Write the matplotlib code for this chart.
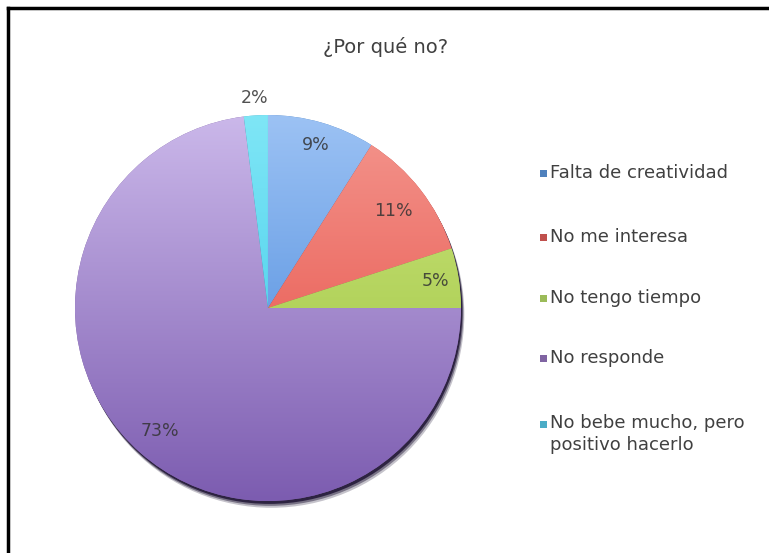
import numpy as np
import matplotlib
matplotlib.use("Agg")
import matplotlib.pyplot as plt
from matplotlib.colors import LinearSegmentedColormap, to_rgb
from matplotlib.patches import Circle, Rectangle
from matplotlib.lines import Line2D

categories = ["Falta de creatividad", "No me interesa", "No tengo tiempo",
              "No responde", "No bebe mucho, pero\npositivo hacerlo"]
values = [9, 11, 5, 73, 2]
title = "¿Por qué no?"

# light (top) and dark (bottom) tones for each slice's vertical gradient
tops = ["#9cc2f4", "#f4968e", "#cde47e", "#cbb8ea", "#7fe6f6"]
bottoms = ["#3b7fd8", "#e4433a", "#98c23a", "#7c5cb0", "#34c6e6"]
legend_colors = ["#4f81bd", "#c0504d", "#9bbb59", "#8064a2", "#4bacc6"]
label_radius = [0.88, 0.82, 0.88, 0.85, 1.09]

text_color = "#404040"
plt.rcParams["font.family"] = ["DejaVu Sans"]

fig = plt.figure(figsize=(7.69, 5.53), dpi=100)
fig.patch.set_facecolor("white")

# outer frame: only top and left edges are visible
fig.add_artist(Line2D([8 / 769, 8 / 769], [0, 1 - 8 / 553], transform=fig.transFigure,
                      color="black", lw=2.5))
fig.add_artist(Line2D([8 / 769, 1], [1 - 8 / 553, 1 - 8 / 553], transform=fig.transFigure,
                      color="black", lw=2.5))

ax = fig.add_axes([0.0473, 0.0242, 0.6023, 0.8376])
ax.set_xlim(-1.2, 1.2)
ax.set_ylim(-1.2, 1.2)
ax.set_aspect("equal")
ax.axis("off")

# soft shadow toward lower right
for k, a in zip([0.035, 0.025, 0.015], [0.25, 0.45, 0.8]):
    ax.add_patch(Circle((k * 0.5, -k), 1.0, color="#1a1030", alpha=a, zorder=1, lw=0))

wedges, _ = ax.pie(values, startangle=90, counterclock=False, radius=1.0,
                   colors=legend_colors, wedgeprops=dict(lw=0, zorder=2))

yy = np.linspace(1, 0, 256).reshape(-1, 1)
for w, t, b in zip(wedges, tops, bottoms):
    cmap = LinearSegmentedColormap.from_list("g", [to_rgb(b), to_rgb(t)])
    im = ax.imshow(yy, cmap=cmap, extent=(-1, 1, -1, 1), aspect="auto",
                   vmin=0, vmax=1, zorder=3, interpolation="bilinear")
    im.set_clip_path(w)

ax.set_xlim(-1.2, 1.2)
ax.set_ylim(-1.2, 1.2)

total = sum(values)
start = 90.0
for v, r in zip(values, label_radius):
    span = v / total * 360
    mid = np.deg2rad(start - span / 2)
    start -= span
    ax.text(r * np.cos(mid), r * np.sin(mid), f"{v}%", ha="center", va="center",
            fontsize=12.5, color="#333333", alpha=0.85, zorder=5)

fig.text(386 / 769, 1 - 47 / 553, title, ha="center", va="center",
         fontsize=14, color=text_color)

# legend
legend_y = [173, 237, 298, 358, 424]
for name, c, y in zip(categories, legend_colors, legend_y):
    fy = 1 - y / 553
    fig.add_artist(Rectangle((540 / 769, fy - 3.5 / 553), 7 / 769, 7 / 553,
                             transform=fig.transFigure, color=c, lw=0))
    if "\n" in name:
        fig.text(550 / 769, fy + 10 / 553, name, ha="left", va="top",
                 fontsize=13, color=text_color, linespacing=1.3)
    else:
        fig.text(550 / 769, fy, name, ha="left", va="center",
                 fontsize=13, color=text_color)

fig.savefig("out.png", dpi=100, facecolor="white")
